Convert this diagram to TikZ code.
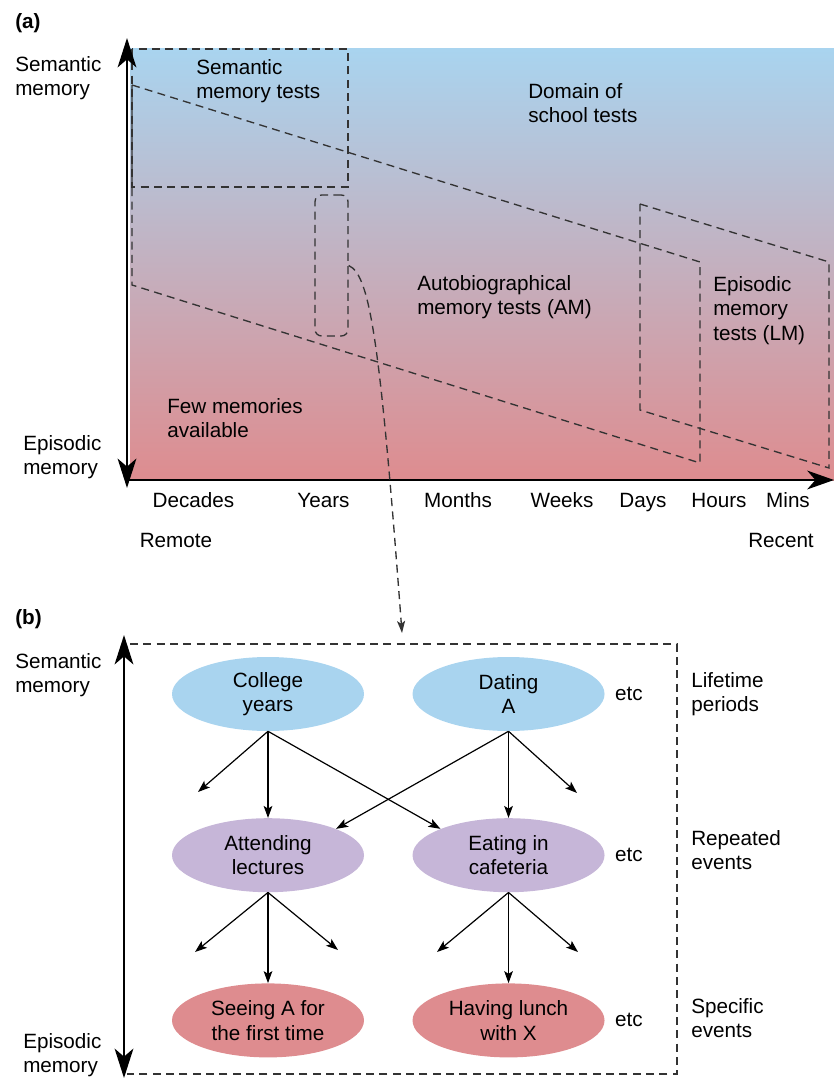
\documentclass[tikz,border=0pt]{standalone}
\usepackage{fontspec}
\setmainfont{Liberation Sans}
\usetikzlibrary{arrows.meta, positioning, shapes.geometric}

\definecolor{skyblue}{HTML}{A9D4EF}
\definecolor{rosered}{HTML}{DE8C8F}
\definecolor{lilac}{HTML}{C6B6D8}

\begin{document}
\begin{tikzpicture}[
    x=0.75pt, y=-0.75pt,
    font=\fontsize{15.5}{18.5}\selectfont,
    axisarr/.style={line width=2.2pt, {Stealth[length=22pt, width=14pt, inset=6pt]}-{Stealth[length=22pt, width=14pt, inset=6pt]}},
    timearr/.style={line width=2.2pt, -{Stealth[length=20pt, width=14pt, inset=6pt]}},
    arr/.style={-{Stealth[length=9pt, width=6.5pt, inset=2pt]}, line width=0.9pt},
    dashline/.style={line width=1pt, dash pattern=on 6pt off 4pt, black!80},
    dasharr/.style={dashline, -{Stealth[length=9pt, width=6pt, inset=2pt]}},
    txt/.style={anchor=north west, inner sep=0pt, align=left},
    panel/.style={txt, font=\fontsize{15.5}{18.5}\selectfont\bfseries},
    tick/.style={anchor=base, inner sep=0pt},
    period/.style={ellipse, fill=skyblue, minimum width=144pt, minimum height=55.5pt, inner sep=0pt, align=center},
    repeated/.style={period, fill=lilac},
    specific/.style={period, fill=rosered},
]

\useasboundingbox (0,0) rectangle (834,1080);

% ============ (a) memory over time ============
\shade[top color=skyblue, bottom color=rosered] (130,49) rectangle (834,480);

\node[panel] (lbla) at (15,13) {(a)};
\node[txt] (sema) at (15,56) {Semantic\\memory};
\node[txt] (epia) at (23,435) {Episodic\\memory};

% test regions
\draw[dashline] (132,49) rectangle (348,187);
\draw[dashline] (132,85) -- (700,262) -- (700,463) -- (132,285) -- cycle;
\draw[dashline] (640,204) -- (829,262) -- (829,468) -- (640,410) -- cycle;
\node[dashline, draw, rounded corners=5pt, minimum width=24.75pt, minimum height=105.75pt] (yrs) at (331.5,265.5) {};

\node[txt] (semtests) at (196,59) {Semantic\\memory tests};
\node[txt] (school) at (528,83) {Domain of\\school tests};
\node[txt] (amtests) at (417,275) {Autobiographical\\memory tests (AM)};
\node[txt] (lmtests) at (713,276) {Episodic\\memory\\tests (LM)};
\node[txt] (few) at (167,398) {Few memories\\available};

% axes
\coordinate (semtop) at (127,38);
\coordinate (epibot) at (127,488);
\draw[axisarr] (epibot) -- (semtop);
\coordinate (origin) at (129,480);
\coordinate (now) at (834,480);
\draw[timearr] (origin) -- (now);

\foreach \lab/\xc in {Decades/193.5, Years/323.5, Months/458, Weeks/562, Days/643, Hours/719, Mins/788}
    \node[tick] (t\lab) at (\xc,507) {\lab};
\node[tick] (remote) at (176,547) {Remote};
\node[tick] (recent) at (781,547) {Recent};

% zoom into (b)
\coordinate (zoomin) at (402,633);
\draw[dasharr] (yrs.east) .. controls (370,275) and (380,340) .. (zoomin);

% ============ (b) hierarchy ============
\node[panel] (lblb) at (15,609) {(b)};
\node[txt] (semb) at (15,653) {Semantic\\memory};
\node[txt] (epib) at (23,1033) {Episodic\\memory};

\coordinate (semtopb) at (124,635);
\coordinate (epibotb) at (124,1078);
\draw[axisarr] (epibotb) -- (semtopb);
\draw[dashline] (130,644) -- (677,644) -- (677,1074) -- (127,1074);

\node[period] (college) at (268,694) {College\\years};
\node[period, right=36pt of college] (dating) {Dating\\A};
\node[repeated, below=65pt of college] (attend) {Attending\\lectures};
\node[repeated, below=65pt of dating] (eating) {Eating in\\cafeteria};
\node[specific, below=68pt of attend] (seeing) {Seeing A for\\the first time};
\node[specific, below=68pt of eating] (lunch) {Having lunch\\with X};

\node[inner sep=0pt, right=7.5pt of dating] (etc1) {etc};
\node[inner sep=0pt, right=7.5pt of eating] (etc2) {etc};
\node[inner sep=0pt, right=7.5pt of lunch] (etc3) {etc};

\node[txt] (lifetime) at (691,672) {Lifetime\\periods};
\node[txt] (repeat) at (691,830) {Repeated\\events};
\node[txt] (specif) at (691,998) {Specific\\events};

% links
\coordinate (c1) at (198,792);
\coordinate (c2) at (577,793);
\coordinate (l1) at (195,952);
\coordinate (l2) at (338,950);
\coordinate (f1) at (437,952);
\coordinate (f2) at (578,952);

\draw[arr] (college.south) -- (c1);
\draw[arr] (college.south) -- (attend.north);
\draw[arr] (college.south) -- (eating.north west);
\draw[arr] (dating.south) -- (attend.north east);
\draw[arr] (dating.south) -- (eating.north);
\draw[arr] (dating.south) -- (c2);

\draw[arr] (attend.south) -- (l1);
\draw[arr] (attend.south) -- (seeing.north);
\draw[arr] (attend.south) -- (l2);
\draw[arr] (eating.south) -- (f1);
\draw[arr] (eating.south) -- (lunch.north);
\draw[arr] (eating.south) -- (f2);

\end{tikzpicture}
\end{document}
